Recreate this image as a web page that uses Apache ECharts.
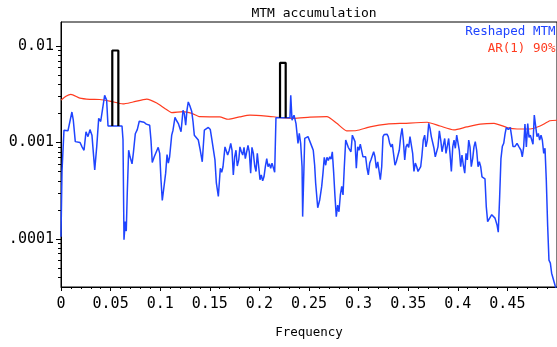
<!DOCTYPE html>
<html>
<head>
<meta charset="utf-8">
<script src="https://cdn.jsdelivr.net/npm/echarts@6/dist/echarts.min.js"></script>
<style>html,body{margin:0;padding:0;background:#fff}#c{width:557px;height:347px}</style>
</head>
<body>
<div id="c"></div>
<script>
// Reshaped MTM spectrum
const freq = [
 0,0.001,0.003,0.005,0.007,0.009,0.011,0.0124,0.0144,0.0164,0.0192,0.0212,0.0232,0.0252,0.0272,0.0292,0.0312,0.034,0.036,0.038,
 0.040,0.042,0.044,0.046,0.0474,0.0615,0.0625,0.0635,0.0648,0.0658,0.0668,0.0682,0.0696,0.0716,0.0729,0.0749,0.0769,0.0789,0.0809,0.0837,
 0.086,0.088,0.0894,0.0907,0.092,0.094,0.096,0.098,0.0995,0.1008,0.1021,0.1041,0.1055,0.1069,0.1082,0.1095,0.1116,0.1129,0.1149,0.1163,
 0.1183,0.1196,0.121,0.123,0.1243,0.1257,0.127,0.1283,0.1297,0.1318,0.1331,0.1344,0.1364,0.1384,0.1404,0.1424,0.1445,0.1465,0.1485,0.1505,
 0.1519,0.1539,0.1552,0.1566,0.1586,0.1606,0.162,0.1633,0.1653,0.1666,0.168,
 0.1696,0.1711,0.1724,0.1737,0.1751,0.1764,0.1777,0.1792,0.1804,0.1818,0.1832,0.1845,0.1858,0.1872,0.1885,0.1898,0.1912,0.1925,0.1939,0.1953,
 0.1966,0.1979,0.1993,0.2006,0.2019,0.2033,0.2046,0.206,0.2074,0.2087,0.21,0.2114,0.2127,0.214,0.2154,0.2167,0.2308,0.2316,0.2329,0.2349,
 0.2369,0.2389,0.2402,0.2416,0.243,0.2436,0.2457,0.249,0.251,0.253,0.2543,0.2557,
 0.2567,0.2588,0.2608,0.2628,0.2641,0.2654,0.2668,0.2681,0.2695,0.2709,0.2722,0.2735,0.2749,0.2762,0.2775,0.2789,0.2802,0.2816,0.283,0.2843,
 0.2856,0.287,0.2883,0.2896,0.291,0.2923,0.2937,0.295,0.2964,0.2977,0.2991,0.3004,0.3017,0.3031,0.3044,0.3057,0.3071,0.3085,0.3098,0.3112,
 0.3125,0.3138,0.3152,0.3165,0.3179,0.3193,0.3206,0.3219,0.3233,0.3246,0.3259,0.3273,0.3286,0.3299,0.3313,0.3327,0.334,0.3354,0.3367,0.338,0.34,
 0.341,0.3424,0.3438,0.3451,0.3465,0.3478,0.3491,0.3505,0.3518,0.3531,0.3545,0.3558,0.3572,0.3586,0.3599,0.3612,0.3626,0.3639,0.3652,0.3666,
 0.3679,0.3693,0.3707,0.372,0.3733,0.3747,0.376,0.3773,0.3787,0.38,0.3814,0.3828,0.3841,0.3854,0.3868,0.3881,0.3894,0.3908,0.3921,0.3935,
 0.3949,0.3962,0.3975,0.3989,0.4002,0.4015,0.4029,0.4042,0.4056,0.407,0.4083,0.4096,0.411,0.4123,0.4136,0.415,0.4163,0.4176,0.419,0.4204,
 0.4217,0.4231,0.4244,0.4257,
 0.4274,0.4287,0.4301,0.4321,0.4342,0.4355,0.4375,0.4395,0.4408,0.4422,0.4435,0.4449,0.4463,0.4476,0.4489,0.4509,0.4529,0.4543,0.4556,0.4577,
 0.4597,0.4617,0.4637,0.465,0.4664,0.4677,0.4691,0.4705,0.4718,0.4731,0.4745,0.4758,0.4771,0.4785,0.4798,0.4812,0.4825,0.4839,0.4852,0.4866,
 0.4879,0.4892,0.4906,0.4919,0.4933,0.4946,0.496,0.4973,0.4987,0.5
];
const mtm = [
 1.05e-4,5.0e-4,1.34e-3,1.36e-3,1.32e-3,1.29e-3,2.07e-3,1.70e-3,1.02e-3,1.0e-3,1.0e-3,9.0e-4,8.3e-4,1.29e-3,1.15e-3,1.36e-3,1.19e-3,5.2e-4,9.0e-4,1.78e-3,
 1.65e-3,2.26e-3,3.09e-3,2.75e-3,1.48e-3,1.48e-3,1.07e-3,9.8e-5,1.51e-4,1.20e-4,3.0e-4,8.3e-4,7.1e-4,6.0e-4,7.7e-4,1.23e-3,1.36e-3,1.66e-3,1.70e-3,1.62e-3,
 1.55e-3,1.60e-3,1.51e-3,1.06e-3,6.2e-4,7.1e-4,7.2e-4,8.9e-4,7.7e-4,4.1e-4,2.5e-4,2.53e-4,4.8e-4,7.5e-4,6.1e-4,7.1e-4,1.19e-3,1.34e-3,1.82e-3,1.70e-3,
 1.57e-3,1.43e-3,1.29e-3,2.16e-3,2.0e-3,1.51e-3,2.16e-3,2.63e-3,2.43e-3,2.09e-3,1.64e-3,1.19e-3,1.22e-3,1.06e-3,8.3e-4,6.3e-4,1.34e-3,1.34e-3,1.43e-3,1.36e-3,
 1.10e-3,1.06e-3,6.6e-4,3.8e-4,2.75e-4,5.4e-4,4.9e-4,5.6e-4,9.0e-4,9.4e-4,7.4e-4,
 8.3e-4,9.8e-4,8.3e-4,4.6e-4,7.1e-4,8.3e-4,5.7e-4,6.6e-4,9.0e-4,8.0e-4,7.4e-4,8.9e-4,6.8e-4,7.1e-4,9.3e-4,8.0e-4,4.8e-4,8.9e-4,7.7e-4,5.7e-4,
 5.0e-4,7.7e-4,5.6e-4,4.1e-4,4.6e-4,4.0e-4,4.4e-4,5.6e-4,6.8e-4,5.6e-4,6.0e-4,5.4e-4,6.1e-4,6.2e-4,4.9e-4,1.80e-3,1.80e-3,3.09e-3,1.70e-3,1.92e-3,
 1.57e-3,9.8e-4,1.24e-3,9.8e-4,5.6e-4,1.70e-4,1.10e-3,1.15e-3,1.10e-3,9.0e-4,8.3e-4,5.8e-4,
 3.8e-4,2.1e-4,2.53e-4,3.5e-4,4.8e-4,7.0e-4,5.8e-4,7.0e-4,6.5e-4,7.1e-4,6.7e-4,8.0e-4,4.8e-4,2.75e-4,1.70e-4,2.24e-4,1.91e-4,2.85e-4,3.5e-4,2.85e-4,
 5.6e-4,1.06e-3,1.10e-3,8.9e-4,8.7e-4,8.0e-4,1.19e-3,1.22e-3,1.02e-3,5.4e-4,9.0e-4,8.3e-4,9.6e-4,9.4e-4,7.1e-4,7.4e-4,7.1e-4,5.4e-4,4.6e-4,6.1e-4,
 6.6e-4,6.3e-4,8.0e-4,7.1e-4,5.4e-4,6.3e-4,6.1e-4,4.1e-4,5.6e-4,1.15e-3,1.21e-3,1.24e-3,1.22e-3,1.15e-3,9.8e-4,9.0e-4,9.6e-4,7.4e-4,5.8e-4,6.3e-4,6.5e-4,
 8.3e-4,1.15e-3,1.40e-3,1.06e-3,6.6e-4,9.0e-4,9.6e-4,8.9e-4,1.15e-3,1.19e-3,7.7e-4,5.0e-4,6.1e-4,5.6e-4,5.0e-4,5.1e-4,5.6e-4,7.4e-4,1.06e-3,1.19e-3,
 9.0e-4,1.06e-3,1.58e-3,1.40e-3,1.15e-3,1.19e-3,8.7e-4,7.1e-4,6.8e-4,9.0e-4,1.32e-3,1.06e-3,8.0e-4,7.7e-4,1.10e-3,7.7e-4,7.4e-4,1.10e-3,7.7e-4,5.0e-4,
 9.0e-4,1.06e-3,8.7e-4,1.19e-3,1.22e-3,8.3e-4,5.6e-4,7.4e-4,5.8e-4,4.8e-4,7.7e-4,6.6e-4,1.06e-3,9.0e-4,5.6e-4,6.8e-4,9.0e-4,1.02e-3,8.3e-4,5.6e-4,
 6.3e-4,5.6e-4,4.4e-4,4.2e-4,
 4.2e-4,2.16e-4,1.51e-4,1.48e-4,1.78e-4,1.85e-4,1.64e-4,1.40e-4,1.17e-4,2.75e-4,6.8e-4,9.1e-4,9.8e-4,1.22e-3,1.43e-3,1.36e-3,1.43e-3,1.15e-3,9.1e-4,9.1e-4,
 9.8e-4,9.0e-4,8.3e-4,7.1e-4,9.0e-4,1.55e-3,9.0e-4,1.57e-3,1.13e-3,1.19e-3,1.15e-3,9.6e-4,1.92e-3,1.96e-3,1.15e-3,1.24e-3,1.06e-3,1.19e-3,1.06e-3,7.7e-4,
 8.7e-4,4.1e-4,1.35e-4,6.0e-5,5.6e-5,4.4e-5,4.3e-5,3.5e-5,3.1e-5,2.8e-5
];
// AR(1) 90% confidence level
const arFreq = [0,0.005,0.010,0.019,0.029,0.039,0.049,0.0625,0.0726,0.0864,0.0965,0.105,0.1116,0.123,0.132,0.140,0.160,0.1686,0.180,0.1905,
 0.207,0.220,0.2346,0.251,0.268,0.278,0.288,0.298,0.3115,0.3286,0.3458,0.369,0.382,0.396,0.409,0.4226,0.4365,0.4496,0.4597,0.4728,0.4829,0.4929,0.5];
const ar90 = [2.75e-3,3.02e-3,3.16e-3,2.88e-3,2.80e-3,2.79e-3,2.69e-3,2.51e-3,2.63e-3,2.82e-3,2.57e-3,2.24e-3,2.04e-3,2.09e-3,2.0e-3,1.85e-3,1.84e-3,1.74e-3,1.84e-3,1.92e-3,
 1.88e-3,1.82e-3,1.78e-3,1.83e-3,1.85e-3,1.58e-3,1.32e-3,1.33e-3,1.45e-3,1.55e-3,1.58e-3,1.62e-3,1.48e-3,1.35e-3,1.45e-3,1.55e-3,1.58e-3,1.43e-3,1.38e-3,1.38e-3,1.48e-3,1.68e-3,1.70e-3];
// Line components (black)
const line1Freq = [0.0517,0.0517,0.0578,0.0578];
const line1Val  = [0.00148,0.0090,0.0090,0.00148];
const line2Freq = [0.2208,0.2208,0.2265,0.2265];
const line2Val  = [0.0018,0.0067,0.0067,0.0018];
// Tick labels
const yMajor = [1e-4, 1e-3, 1e-2];
const yMajorLabels = ['.0001', '0.001', '0.01'];

const FONT = '"DejaVu Sans Mono", monospace';
const BLUE = '#1f44ff';
const RED = '#ff3b1f';
const lg = v => Math.log10(v);
const pairs = (xs, ys) => xs.map((x, i) => [x, lg(ys[i])]);

const yMinor = [];
for (let e = -5; e <= -2; e++) for (let k = 2; k <= 9; k++) {
  const l = Math.log10(k) + e;
  if (l > -4.5 && l < -1.75) yMinor.push(l);
}
const majorL = yMajor.map(lg);

const chart = echarts.init(document.getElementById('c'), null, {renderer: 'canvas'});
chart.setOption({
  animation: false,
  backgroundColor: '#fff',
  title: {
    text: 'MTM accumulation', left: 309, top: 2, textAlign: 'center',
    textStyle: {fontFamily: FONT, fontSize: 13, fontWeight: 'normal', color: '#000'}
  },
  grid: {left: 61, right: 0, top: 22, bottom: 60, show: true, borderColor: '#000', borderWidth: 1, containLabel: false},
  xAxis: {
    type: 'value', min: 0, max: 0.5, interval: 0.05,
    name: 'Frequency', nameLocation: 'middle', nameGap: 39,
    nameTextStyle: {fontFamily: FONT, fontSize: 12.5, color: '#000'},
    axisLine: {lineStyle: {color: '#000', width: 1}},
    axisTick: {show: true, length: 4, lineStyle: {color: '#000'}},
    minorTick: {show: true, splitNumber: 5, length: 2, lineStyle: {color: '#000'}},
    splitLine: {show: false},
    axisLabel: {
      fontFamily: FONT, fontSize: 15, color: '#000', margin: 10, showMaxLabel: false,
      formatter: v => (v > 0.499 ? '' : String(+v.toFixed(2)))
    }
  },
  yAxis: [{
    type: 'value', min: -4.5, max: -1.75,
    axisLine: {show: true, lineStyle: {color: '#000', width: 1}},
    axisTick: {show: true, length: 5, customValues: majorL, lineStyle: {color: '#000'}},
    splitLine: {show: false},
    axisLabel: {
      fontFamily: FONT, fontSize: 15, color: '#000', margin: 7, customValues: majorL,
      formatter: v => { const i = majorL.findIndex(m => Math.abs(m - v) < 1e-6); return i >= 0 ? yMajorLabels[i] : ''; }
    }
  }, {
    type: 'value', min: -4.5, max: -1.75, position: 'left',
    axisLine: {show: false},
    axisTick: {show: true, length: 3, customValues: yMinor, lineStyle: {color: '#000'}},
    axisLabel: {show: false},
    splitLine: {show: false}
  }],
  graphic: [
    {type: 'text', right: 1.5, top: 25.5, style: {text: 'Reshaped MTM', fill: BLUE, font: '12.5px ' + FONT}},
    {type: 'text', right: 1.5, top: 42, style: {text: 'AR(1) 90%', fill: RED, font: '12.5px ' + FONT}}
  ],
  series: [
    {name: 'AR(1) 90%', type: 'line', data: pairs(arFreq, ar90), showSymbol: false, smooth: 0.2,
     lineStyle: {color: RED, width: 1.2}, z: 2},
    {name: 'Reshaped MTM', type: 'line', data: pairs(freq, mtm), showSymbol: false,
     lineStyle: {color: BLUE, width: 1.5}, clip: true, z: 3},
    {name: 'Line 1', type: 'line', data: pairs(line1Freq, line1Val), showSymbol: false,
     lineStyle: {color: '#000', width: 2.2}, z: 4},
    {name: 'Line 2', type: 'line', data: pairs(line2Freq, line2Val), showSymbol: false,
     lineStyle: {color: '#000', width: 2.2}, z: 4}
  ]
});
</script>
</body>
</html>
